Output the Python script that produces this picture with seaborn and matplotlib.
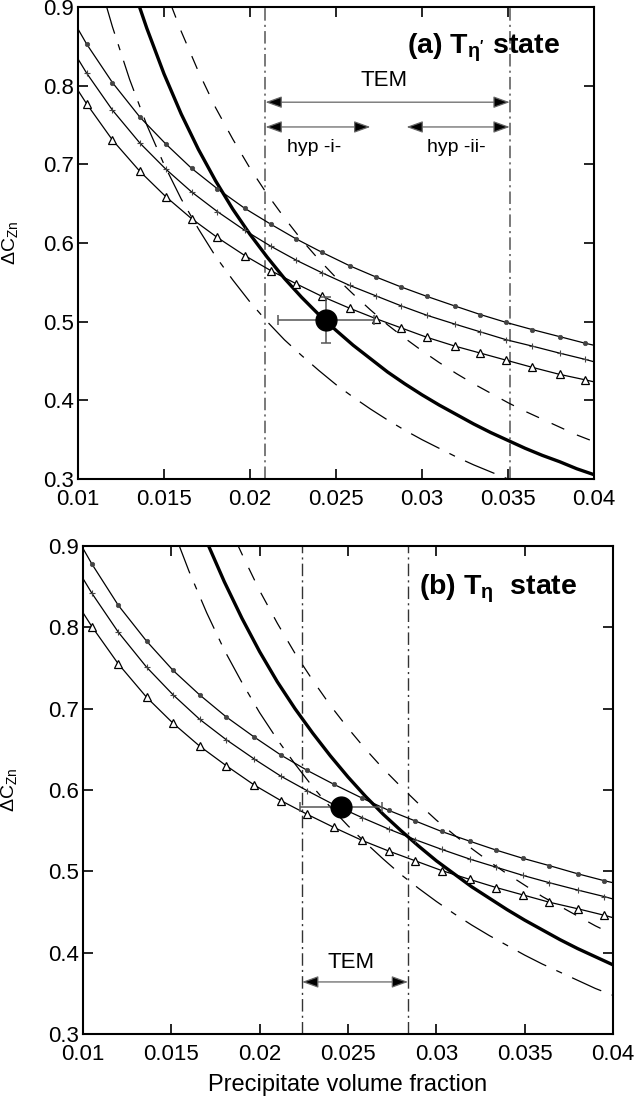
import matplotlib
matplotlib.use("Agg")
import matplotlib.pyplot as plt
import seaborn as sns

sns.set_theme(style="ticks")
plt.rcParams["font.family"] = ["Liberation Sans", "DejaVu Sans"]
plt.rcParams["mathtext.fontset"] = "custom"
plt.rcParams["mathtext.rm"] = "Liberation Sans"
plt.rcParams["mathtext.it"] = "Liberation Sans:italic"
plt.rcParams["mathtext.bf"] = "Liberation Sans:bold"
plt.rcParams["mathtext.default"] = "regular"
plt.rcParams["lines.scale_dashes"] = False

# ---------------- data ----------------
marker_x = [0.0100, 0.0105, 0.0120, 0.0136, 0.0151, 0.0166, 0.0181, 0.0197, 0.0212,
            0.0227, 0.0242, 0.0258, 0.0273, 0.0288, 0.0303, 0.0319, 0.0334, 0.0349,
            0.0364, 0.0380, 0.0395, 0.0400]

top_dots = [0.872, 0.853, 0.804, 0.760, 0.726, 0.695, 0.669, 0.644, 0.624, 0.605, 0.588,
            0.571, 0.557, 0.544, 0.532, 0.520, 0.509, 0.499, 0.490, 0.481, 0.4725, 0.470]
top_plus = [0.834, 0.816, 0.769, 0.727, 0.694, 0.665, 0.640, 0.616, 0.596, 0.578, 0.562,
            0.546, 0.533, 0.520, 0.508, 0.497, 0.487, 0.477, 0.469, 0.460, 0.452, 0.449]
top_tri = [0.794, 0.777, 0.731, 0.691, 0.659, 0.631, 0.607, 0.584, 0.565, 0.548, 0.532,
           0.517, 0.504, 0.492, 0.480, 0.469, 0.460, 0.451, 0.442, 0.433, 0.426, 0.4235]

bot_dots = [0.897, 0.878, 0.827, 0.783, 0.747, 0.717, 0.690, 0.665, 0.643, 0.624, 0.607,
            0.590, 0.575, 0.562, 0.549, 0.537, 0.526, 0.516, 0.507, 0.497, 0.4885, 0.486]
bot_plus = [0.860, 0.842, 0.794, 0.751, 0.717, 0.687, 0.662, 0.638, 0.617, 0.599, 0.582,
            0.566, 0.552, 0.539, 0.527, 0.515, 0.505, 0.495, 0.486, 0.477, 0.469, 0.466]
bot_tri = [0.818, 0.801, 0.755, 0.714, 0.682, 0.654, 0.630, 0.606, 0.587, 0.570, 0.554,
           0.538, 0.525, 0.513, 0.501, 0.490, 0.480, 0.471, 0.462, 0.454, 0.446, 0.443]

top_thick_x = [0.0135, 0.014, 0.015, 0.016, 0.017, 0.018, 0.019, 0.020, 0.021, 0.022,
               0.023, 0.024, 0.025, 0.026, 0.027, 0.028, 0.029, 0.030, 0.031, 0.032,
               0.033, 0.034, 0.035, 0.036, 0.037, 0.038, 0.039, 0.040]
top_thick_y = [0.905, 0.873, 0.815, 0.764, 0.719, 0.679, 0.643, 0.611, 0.582, 0.555,
               0.531, 0.509, 0.489, 0.470, 0.453, 0.436, 0.421, 0.407, 0.394, 0.382,
               0.370, 0.359, 0.349, 0.339, 0.330, 0.322, 0.313, 0.3055]

top_dash_x = [0.0154, 0.016, 0.017, 0.018, 0.019, 0.020, 0.021, 0.022, 0.023, 0.024,
              0.025, 0.026, 0.027, 0.028, 0.029, 0.030, 0.031, 0.032, 0.033, 0.034,
              0.035, 0.036, 0.037, 0.038, 0.039, 0.040]
top_dash_y = [0.903, 0.869, 0.818, 0.772, 0.732, 0.695, 0.662, 0.632, 0.604, 0.579,
              0.556, 0.535, 0.515, 0.496, 0.479, 0.463, 0.448, 0.434, 0.421, 0.409,
              0.397, 0.386, 0.376, 0.366, 0.356, 0.3475]

top_dashdot_x = [0.0116, 0.012, 0.013, 0.014, 0.015, 0.016, 0.017, 0.018, 0.019, 0.020,
                 0.021, 0.022, 0.023, 0.024, 0.025, 0.026, 0.027, 0.028, 0.029, 0.030,
                 0.031, 0.032, 0.033, 0.034, 0.035, 0.036]
top_dashdot_y = [0.905, 0.875, 0.808, 0.750, 0.700, 0.656, 0.618, 0.583, 0.553, 0.525,
                 0.500, 0.477, 0.457, 0.438, 0.420, 0.404, 0.389, 0.375, 0.362, 0.350,
                 0.339, 0.328, 0.318, 0.309, 0.300, 0.292]

bot_thick_x = [0.0171, 0.018, 0.019, 0.020, 0.021, 0.022, 0.023, 0.024, 0.025, 0.026,
               0.027, 0.028, 0.029, 0.030, 0.031, 0.032, 0.033, 0.034, 0.035, 0.036,
               0.037, 0.038, 0.039, 0.040]
bot_thick_y = [0.9006, 0.856, 0.811, 0.770, 0.733, 0.700, 0.670, 0.642, 0.616, 0.592,
               0.570, 0.550, 0.531, 0.513, 0.497, 0.481, 0.467, 0.453, 0.440, 0.428,
               0.416, 0.405, 0.395, 0.385]

bot_dash_x = [0.0187, 0.019, 0.020, 0.021, 0.022, 0.023, 0.024, 0.025, 0.026, 0.027,
              0.028, 0.029, 0.030, 0.031, 0.032, 0.033, 0.034, 0.035, 0.036, 0.037,
              0.038, 0.039, 0.040]
bot_dash_y = [0.904, 0.890, 0.845, 0.805, 0.768, 0.735, 0.704, 0.676, 0.650, 0.626,
              0.604, 0.583, 0.563, 0.545, 0.528, 0.512, 0.497, 0.483, 0.469, 0.457,
              0.445, 0.433, 0.4225]

bot_dashdot_x = [0.0154, 0.016, 0.017, 0.018, 0.019, 0.020, 0.021, 0.022, 0.023, 0.024,
                 0.025, 0.026, 0.027, 0.028, 0.029, 0.030, 0.031, 0.032, 0.033, 0.034,
                 0.035, 0.036, 0.037, 0.038, 0.039, 0.040]
bot_dashdot_y = [0.903, 0.869, 0.818, 0.772, 0.732, 0.695, 0.662, 0.632, 0.604, 0.579,
                 0.556, 0.535, 0.515, 0.496, 0.479, 0.463, 0.448, 0.434, 0.421, 0.409,
                 0.397, 0.386, 0.376, 0.366, 0.356, 0.3475]

# measured points (x, y, xerr, yerr)
top_point = (0.0244, 0.502, 0.0028, 0.029)
bot_point = (0.0246, 0.5795, 0.0023, 0.0)

# TEM bounds and hypotheses
top_tem = (0.0209, 0.0351)
top_hyp1 = (0.0209, 0.0270)
top_hyp2 = (0.0291, 0.0351)
bot_tem = (0.0224, 0.0284)

xticks = [0.01, 0.015, 0.02, 0.025, 0.03, 0.035, 0.04]
xtick_labels = ["0.01", "0.015", "0.02", "0.025", "0.03", "0.035", "0.04"]
yticks = [0.3, 0.4, 0.5, 0.6, 0.7, 0.8, 0.9]
ytick_labels = ["0.3", "0.4", "0.5", "0.6", "0.7", "0.8", "0.9"]

# ---------------- figure ----------------
fig = plt.figure(figsize=(6.4, 11.01), dpi=100)
ax_top = fig.add_axes([78 / 640, 1 - 479 / 1101, 516 / 640, 472 / 1101])
ax_bot = fig.add_axes([83 / 640, 1 - 1034 / 1101, 530 / 640, 488 / 1101])

DASH = (0, (10, 10))
DASHDOT = (0, (23, 8, 4.5, 8))
VLINE = (0, (9, 3, 1.5, 3))


def marker_lines(ax, dots, plus, tri):
    me = slice(1, len(marker_x) - 1)
    sns.lineplot(x=marker_x, y=dots, ax=ax, color="black", lw=0.9, marker="o", ms=3.2,
                 mfc="#444444", mec="#444444", mew=0.5, markevery=me, sort=False,
                 estimator=None, zorder=4)
    sns.lineplot(x=marker_x, y=plus, ax=ax, color="black", lw=0.9, marker="+", ms=4.5,
                 mfc="#444444", mec="#444444", mew=0.8, markevery=me, sort=False,
                 estimator=None, zorder=4)
    sns.lineplot(x=marker_x, y=tri, ax=ax, color="black", lw=0.9, marker="^", ms=6,
                 mfc="white", mec="black", mew=0.9, markevery=me, sort=False,
                 estimator=None, zorder=4)


def curve(ax, x, y, ls, lw):
    sns.lineplot(x=x, y=y, ax=ax, color="black", lw=lw, linestyle=ls, sort=False,
                 estimator=None, zorder=3)


def darrow(ax, x0, x1, y):
    ax.annotate("", xy=(x1, y), xytext=(x0, y),
                arrowprops=dict(arrowstyle="<|-|>,head_length=1.0,head_width=0.36",
                                fc="black", ec="#666666", lw=0.9, shrinkA=0, shrinkB=0,
                                mutation_scale=10),
                zorder=6)


def style_axes(ax):
    ax.set_xlim(0.01, 0.04)
    ax.set_ylim(0.3, 0.9)
    ax.set_xticks(xticks)
    ax.set_xticklabels(xtick_labels)
    ax.set_yticks(yticks)
    ax.set_yticklabels(ytick_labels)
    ax.tick_params(axis="both", which="major", direction="in", length=7, width=1.2,
                   top=True, right=True, labelsize=16, color="black", labelcolor="black")
    ax.tick_params(axis="x", pad=7.5)
    ax.tick_params(axis="y", pad=3)
    for s in ax.spines.values():
        s.set_linewidth(1.5)
        s.set_color("black")
        s.set_visible(True)
    ax.set_facecolor("white")
    ax.set_ylabel("ΔC$_{Zn}$", fontsize=14, color="black")


# ---- top panel ----
ax = ax_top
curve(ax, top_thick_x, top_thick_y, "-", 2.4)
curve(ax, top_dash_x, top_dash_y, DASH, 0.9)
curve(ax, top_dashdot_x, top_dashdot_y, DASHDOT, 0.9)
marker_lines(ax, top_dots, top_plus, top_tri)
for xv in top_tem:
    ax.axvline(xv, color="#6e6e6e", lw=1.3, linestyle=VLINE, zorder=2)
darrow(ax, top_tem[0], top_tem[1], 0.779)
darrow(ax, top_hyp1[0], top_hyp1[1], 0.7475)
darrow(ax, top_hyp2[0], top_hyp2[1], 0.7475)
ax.text(0.0278, 0.806, "TEM", fontsize=16, ha="center", va="center", color="black")
ax.text(0.0237, 0.722, "hyp -i-", fontsize=14, ha="center", va="center", color="black")
ax.text(0.0320, 0.722, "hyp -ii-", fontsize=14, ha="center", va="center", color="black")
ax.text(0.0380, 0.841, "(a) T$_{η'}$ state", fontsize=20.5, fontweight="bold",
        ha="right", va="baseline", color="black")
ax.errorbar(top_point[0], top_point[1], xerr=top_point[2], yerr=top_point[3], fmt="o",
            ms=15, color="black", ecolor="#555555", elinewidth=1.1, capsize=3.5,
            capthick=1.1, zorder=7)
style_axes(ax)
ax.yaxis.set_label_coords(-0.112, 0.5)

# ---- bottom panel ----
ax = ax_bot
curve(ax, bot_thick_x, bot_thick_y, "-", 2.4)
curve(ax, bot_dash_x, bot_dash_y, DASH, 0.9)
curve(ax, bot_dashdot_x, bot_dashdot_y, DASHDOT, 0.9)
marker_lines(ax, bot_dots, bot_plus, bot_tri)
for xv in bot_tem:
    ax.axvline(xv, color="#333333", lw=1.0, linestyle=VLINE, zorder=2)
darrow(ax, bot_tem[0], bot_tem[1], 0.364)
ax.text(0.0252, 0.388, "TEM", fontsize=16, ha="center", va="center", color="black")
ax.text(0.0380, 0.840, "(b) T$_{η}$  state", fontsize=20.5, fontweight="bold",
        ha="right", va="baseline", color="black")
ax.errorbar(bot_point[0], bot_point[1], xerr=bot_point[2], fmt="o",
            ms=15, color="black", ecolor="#555555", elinewidth=1.1, capsize=3.5,
            capthick=1.1, zorder=7)
style_axes(ax)
ax.yaxis.set_label_coords(-0.12, 0.5)
ax.set_xlabel("Precipitate volume fraction", fontsize=17, color="black")
ax.xaxis.set_label_coords(0.5, -0.105)
ax.xaxis.label.set_va("center")

fig.savefig("out.png", dpi=100, facecolor="white")
